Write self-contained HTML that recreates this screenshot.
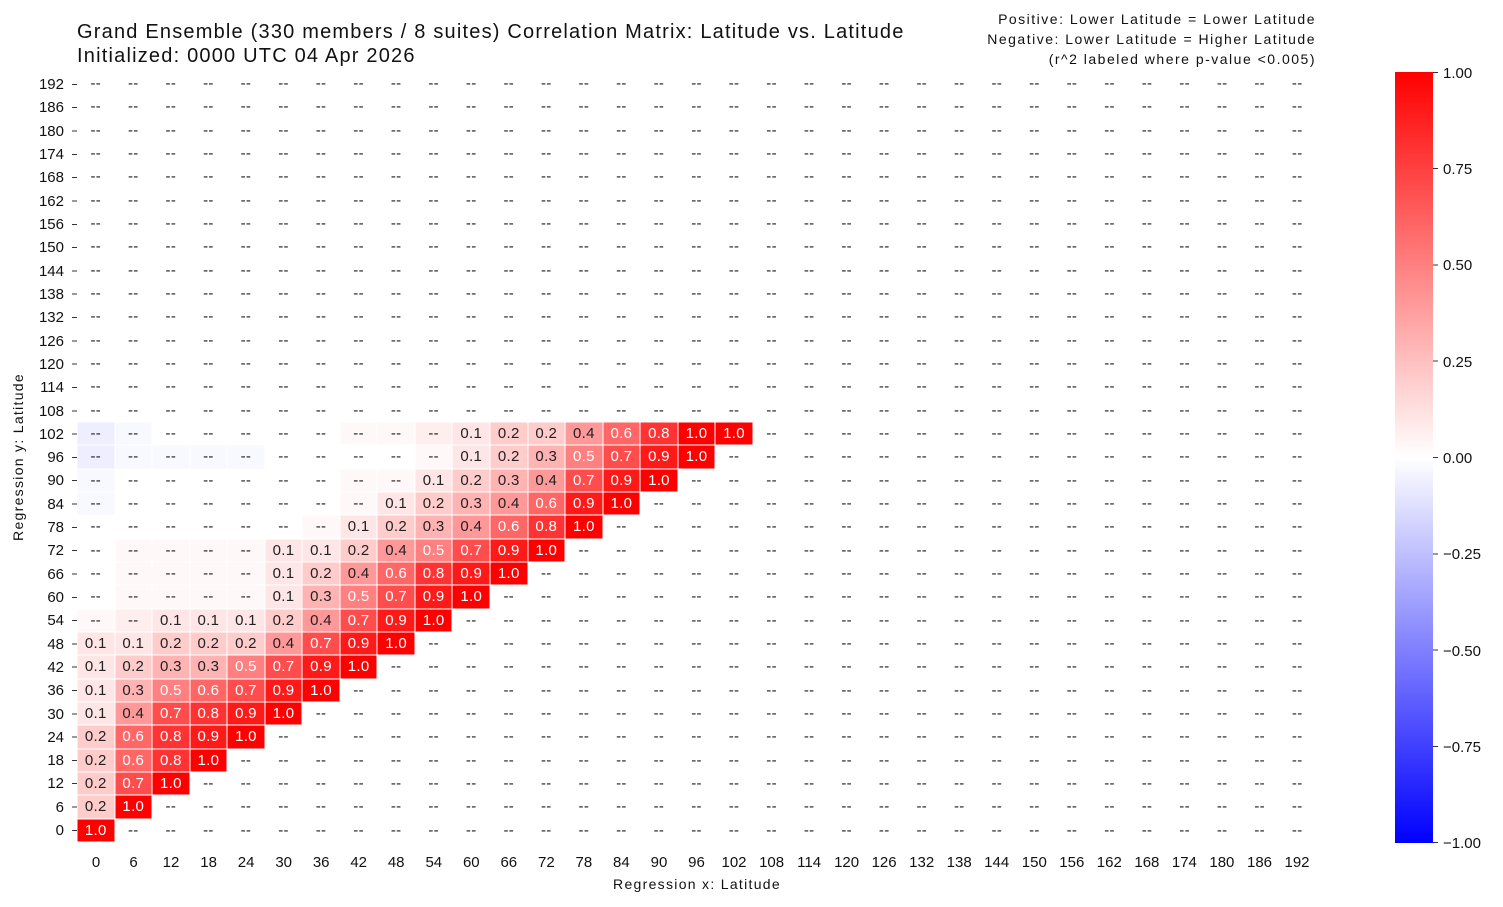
<!DOCTYPE html>
<html><head><meta charset="utf-8"><style>
*{margin:0;padding:0;box-sizing:border-box}
body{width:1503px;height:907px;background:#fff;position:relative;font-family:"Liberation Sans",sans-serif;color:#111;overflow:hidden}
.t{position:absolute;white-space:nowrap}
#g{position:absolute;left:77px;top:72px;width:1239px;height:770px;display:grid;grid-template-columns:repeat(33,1fr);grid-template-rows:repeat(33,1fr)}
#g i{font-style:normal;display:flex;align-items:center;justify-content:center;font-size:15px;letter-spacing:0.3px;color:#222;box-shadow:inset 0 0 0 .5px #fff}
.a1{background:#ffe6e6}.a2{background:#ffcccc}.a3{background:#ffb3b3}.a4{background:#ff9999}
#g .a5{background:#ff8080;color:#fff}#g .a6{background:#ff6666;color:#fff}#g .a7{background:#ff4d4d;color:#fff}#g .a8{background:#ff3333;color:#fff}#g .a9{background:#ff1a1a;color:#fff}#g .a0{background:#ff0000;color:#fff}
.f{background:#fff8f8}.g{background:#ffeeee}.b{background:#f8f8ff}.c{background:#eeeeff}
</style></head><body>
<div class="t" style="left:77px;top:20px;font-size:20px;line-height:24px;letter-spacing:1.2px">Grand Ensemble (330 members / 8 suites) Correlation Matrix: Latitude vs. Latitude<br>Initialized: 0000 UTC 04 Apr 2026</div>
<div class="t" style="right:187px;top:9px;font-size:14px;line-height:20px;text-align:right;letter-spacing:1.5px">Positive: Lower Latitude = Lower Latitude<br>Negative: Lower Latitude = Higher Latitude<br>(r^2 labeled where p-value &lt;0.005)</div>
<div class="t" style="left:697px;top:876px;font-size:14px;letter-spacing:1.3px;transform:translateX(-50%)">Regression x: Latitude</div>
<div class="t" style="left:18px;top:457px;font-size:14px;letter-spacing:1.3px;transform:translate(-50%,-50%) rotate(-90deg)">Regression y: Latitude</div>
<div id="g">
<i>--</i><i>--</i><i>--</i><i>--</i><i>--</i><i>--</i><i>--</i><i>--</i><i>--</i><i>--</i><i>--</i><i>--</i><i>--</i><i>--</i><i>--</i><i>--</i><i>--</i><i>--</i><i>--</i><i>--</i><i>--</i><i>--</i><i>--</i><i>--</i><i>--</i><i>--</i><i>--</i><i>--</i><i>--</i><i>--</i><i>--</i><i>--</i><i>--</i>
<i>--</i><i>--</i><i>--</i><i>--</i><i>--</i><i>--</i><i>--</i><i>--</i><i>--</i><i>--</i><i>--</i><i>--</i><i>--</i><i>--</i><i>--</i><i>--</i><i>--</i><i>--</i><i>--</i><i>--</i><i>--</i><i>--</i><i>--</i><i>--</i><i>--</i><i>--</i><i>--</i><i>--</i><i>--</i><i>--</i><i>--</i><i>--</i><i>--</i>
<i>--</i><i>--</i><i>--</i><i>--</i><i>--</i><i>--</i><i>--</i><i>--</i><i>--</i><i>--</i><i>--</i><i>--</i><i>--</i><i>--</i><i>--</i><i>--</i><i>--</i><i>--</i><i>--</i><i>--</i><i>--</i><i>--</i><i>--</i><i>--</i><i>--</i><i>--</i><i>--</i><i>--</i><i>--</i><i>--</i><i>--</i><i>--</i><i>--</i>
<i>--</i><i>--</i><i>--</i><i>--</i><i>--</i><i>--</i><i>--</i><i>--</i><i>--</i><i>--</i><i>--</i><i>--</i><i>--</i><i>--</i><i>--</i><i>--</i><i>--</i><i>--</i><i>--</i><i>--</i><i>--</i><i>--</i><i>--</i><i>--</i><i>--</i><i>--</i><i>--</i><i>--</i><i>--</i><i>--</i><i>--</i><i>--</i><i>--</i>
<i>--</i><i>--</i><i>--</i><i>--</i><i>--</i><i>--</i><i>--</i><i>--</i><i>--</i><i>--</i><i>--</i><i>--</i><i>--</i><i>--</i><i>--</i><i>--</i><i>--</i><i>--</i><i>--</i><i>--</i><i>--</i><i>--</i><i>--</i><i>--</i><i>--</i><i>--</i><i>--</i><i>--</i><i>--</i><i>--</i><i>--</i><i>--</i><i>--</i>
<i>--</i><i>--</i><i>--</i><i>--</i><i>--</i><i>--</i><i>--</i><i>--</i><i>--</i><i>--</i><i>--</i><i>--</i><i>--</i><i>--</i><i>--</i><i>--</i><i>--</i><i>--</i><i>--</i><i>--</i><i>--</i><i>--</i><i>--</i><i>--</i><i>--</i><i>--</i><i>--</i><i>--</i><i>--</i><i>--</i><i>--</i><i>--</i><i>--</i>
<i>--</i><i>--</i><i>--</i><i>--</i><i>--</i><i>--</i><i>--</i><i>--</i><i>--</i><i>--</i><i>--</i><i>--</i><i>--</i><i>--</i><i>--</i><i>--</i><i>--</i><i>--</i><i>--</i><i>--</i><i>--</i><i>--</i><i>--</i><i>--</i><i>--</i><i>--</i><i>--</i><i>--</i><i>--</i><i>--</i><i>--</i><i>--</i><i>--</i>
<i>--</i><i>--</i><i>--</i><i>--</i><i>--</i><i>--</i><i>--</i><i>--</i><i>--</i><i>--</i><i>--</i><i>--</i><i>--</i><i>--</i><i>--</i><i>--</i><i>--</i><i>--</i><i>--</i><i>--</i><i>--</i><i>--</i><i>--</i><i>--</i><i>--</i><i>--</i><i>--</i><i>--</i><i>--</i><i>--</i><i>--</i><i>--</i><i>--</i>
<i>--</i><i>--</i><i>--</i><i>--</i><i>--</i><i>--</i><i>--</i><i>--</i><i>--</i><i>--</i><i>--</i><i>--</i><i>--</i><i>--</i><i>--</i><i>--</i><i>--</i><i>--</i><i>--</i><i>--</i><i>--</i><i>--</i><i>--</i><i>--</i><i>--</i><i>--</i><i>--</i><i>--</i><i>--</i><i>--</i><i>--</i><i>--</i><i>--</i>
<i>--</i><i>--</i><i>--</i><i>--</i><i>--</i><i>--</i><i>--</i><i>--</i><i>--</i><i>--</i><i>--</i><i>--</i><i>--</i><i>--</i><i>--</i><i>--</i><i>--</i><i>--</i><i>--</i><i>--</i><i>--</i><i>--</i><i>--</i><i>--</i><i>--</i><i>--</i><i>--</i><i>--</i><i>--</i><i>--</i><i>--</i><i>--</i><i>--</i>
<i>--</i><i>--</i><i>--</i><i>--</i><i>--</i><i>--</i><i>--</i><i>--</i><i>--</i><i>--</i><i>--</i><i>--</i><i>--</i><i>--</i><i>--</i><i>--</i><i>--</i><i>--</i><i>--</i><i>--</i><i>--</i><i>--</i><i>--</i><i>--</i><i>--</i><i>--</i><i>--</i><i>--</i><i>--</i><i>--</i><i>--</i><i>--</i><i>--</i>
<i>--</i><i>--</i><i>--</i><i>--</i><i>--</i><i>--</i><i>--</i><i>--</i><i>--</i><i>--</i><i>--</i><i>--</i><i>--</i><i>--</i><i>--</i><i>--</i><i>--</i><i>--</i><i>--</i><i>--</i><i>--</i><i>--</i><i>--</i><i>--</i><i>--</i><i>--</i><i>--</i><i>--</i><i>--</i><i>--</i><i>--</i><i>--</i><i>--</i>
<i>--</i><i>--</i><i>--</i><i>--</i><i>--</i><i>--</i><i>--</i><i>--</i><i>--</i><i>--</i><i>--</i><i>--</i><i>--</i><i>--</i><i>--</i><i>--</i><i>--</i><i>--</i><i>--</i><i>--</i><i>--</i><i>--</i><i>--</i><i>--</i><i>--</i><i>--</i><i>--</i><i>--</i><i>--</i><i>--</i><i>--</i><i>--</i><i>--</i>
<i>--</i><i>--</i><i>--</i><i>--</i><i>--</i><i>--</i><i>--</i><i>--</i><i>--</i><i>--</i><i>--</i><i>--</i><i>--</i><i>--</i><i>--</i><i>--</i><i>--</i><i>--</i><i>--</i><i>--</i><i>--</i><i>--</i><i>--</i><i>--</i><i>--</i><i>--</i><i>--</i><i>--</i><i>--</i><i>--</i><i>--</i><i>--</i><i>--</i>
<i>--</i><i>--</i><i>--</i><i>--</i><i>--</i><i>--</i><i>--</i><i>--</i><i>--</i><i>--</i><i>--</i><i>--</i><i>--</i><i>--</i><i>--</i><i>--</i><i>--</i><i>--</i><i>--</i><i>--</i><i>--</i><i>--</i><i>--</i><i>--</i><i>--</i><i>--</i><i>--</i><i>--</i><i>--</i><i>--</i><i>--</i><i>--</i><i>--</i>
<i class="c">--</i><i class="b">--</i><i>--</i><i>--</i><i>--</i><i>--</i><i>--</i><i class="f">--</i><i class="f">--</i><i class="g">--</i><i class="a1">0.1</i><i class="a2">0.2</i><i class="a2">0.2</i><i class="a4">0.4</i><i class="a6">0.6</i><i class="a8">0.8</i><i class="a0">1.0</i><i class="a0">1.0</i><i>--</i><i>--</i><i>--</i><i>--</i><i>--</i><i>--</i><i>--</i><i>--</i><i>--</i><i>--</i><i>--</i><i>--</i><i>--</i><i>--</i><i>--</i>
<i class="c">--</i><i class="b">--</i><i class="b">--</i><i class="b">--</i><i class="b">--</i><i>--</i><i>--</i><i>--</i><i>--</i><i class="f">--</i><i class="a1">0.1</i><i class="a2">0.2</i><i class="a3">0.3</i><i class="a5">0.5</i><i class="a7">0.7</i><i class="a9">0.9</i><i class="a0">1.0</i><i>--</i><i>--</i><i>--</i><i>--</i><i>--</i><i>--</i><i>--</i><i>--</i><i>--</i><i>--</i><i>--</i><i>--</i><i>--</i><i>--</i><i>--</i><i>--</i>
<i class="b">--</i><i>--</i><i>--</i><i>--</i><i>--</i><i>--</i><i>--</i><i class="f">--</i><i class="f">--</i><i class="a1">0.1</i><i class="a2">0.2</i><i class="a3">0.3</i><i class="a4">0.4</i><i class="a7">0.7</i><i class="a9">0.9</i><i class="a0">1.0</i><i>--</i><i>--</i><i>--</i><i>--</i><i>--</i><i>--</i><i>--</i><i>--</i><i>--</i><i>--</i><i>--</i><i>--</i><i>--</i><i>--</i><i>--</i><i>--</i><i>--</i>
<i class="b">--</i><i>--</i><i>--</i><i>--</i><i>--</i><i>--</i><i>--</i><i class="f">--</i><i class="a1">0.1</i><i class="a2">0.2</i><i class="a3">0.3</i><i class="a4">0.4</i><i class="a6">0.6</i><i class="a9">0.9</i><i class="a0">1.0</i><i>--</i><i>--</i><i>--</i><i>--</i><i>--</i><i>--</i><i>--</i><i>--</i><i>--</i><i>--</i><i>--</i><i>--</i><i>--</i><i>--</i><i>--</i><i>--</i><i>--</i><i>--</i>
<i>--</i><i>--</i><i>--</i><i>--</i><i>--</i><i>--</i><i class="f">--</i><i class="a1">0.1</i><i class="a2">0.2</i><i class="a3">0.3</i><i class="a4">0.4</i><i class="a6">0.6</i><i class="a8">0.8</i><i class="a0">1.0</i><i>--</i><i>--</i><i>--</i><i>--</i><i>--</i><i>--</i><i>--</i><i>--</i><i>--</i><i>--</i><i>--</i><i>--</i><i>--</i><i>--</i><i>--</i><i>--</i><i>--</i><i>--</i><i>--</i>
<i>--</i><i class="f">--</i><i class="f">--</i><i class="f">--</i><i class="f">--</i><i class="a1">0.1</i><i class="a1">0.1</i><i class="a2">0.2</i><i class="a4">0.4</i><i class="a5">0.5</i><i class="a7">0.7</i><i class="a9">0.9</i><i class="a0">1.0</i><i>--</i><i>--</i><i>--</i><i>--</i><i>--</i><i>--</i><i>--</i><i>--</i><i>--</i><i>--</i><i>--</i><i>--</i><i>--</i><i>--</i><i>--</i><i>--</i><i>--</i><i>--</i><i>--</i><i>--</i>
<i>--</i><i class="f">--</i><i class="f">--</i><i class="f">--</i><i class="f">--</i><i class="a1">0.1</i><i class="a2">0.2</i><i class="a4">0.4</i><i class="a6">0.6</i><i class="a8">0.8</i><i class="a9">0.9</i><i class="a0">1.0</i><i>--</i><i>--</i><i>--</i><i>--</i><i>--</i><i>--</i><i>--</i><i>--</i><i>--</i><i>--</i><i>--</i><i>--</i><i>--</i><i>--</i><i>--</i><i>--</i><i>--</i><i>--</i><i>--</i><i>--</i><i>--</i>
<i>--</i><i class="f">--</i><i class="f">--</i><i class="f">--</i><i class="f">--</i><i class="a1">0.1</i><i class="a3">0.3</i><i class="a5">0.5</i><i class="a7">0.7</i><i class="a9">0.9</i><i class="a0">1.0</i><i>--</i><i>--</i><i>--</i><i>--</i><i>--</i><i>--</i><i>--</i><i>--</i><i>--</i><i>--</i><i>--</i><i>--</i><i>--</i><i>--</i><i>--</i><i>--</i><i>--</i><i>--</i><i>--</i><i>--</i><i>--</i><i>--</i>
<i class="f">--</i><i class="g">--</i><i class="a1">0.1</i><i class="a1">0.1</i><i class="a1">0.1</i><i class="a2">0.2</i><i class="a4">0.4</i><i class="a7">0.7</i><i class="a9">0.9</i><i class="a0">1.0</i><i>--</i><i>--</i><i>--</i><i>--</i><i>--</i><i>--</i><i>--</i><i>--</i><i>--</i><i>--</i><i>--</i><i>--</i><i>--</i><i>--</i><i>--</i><i>--</i><i>--</i><i>--</i><i>--</i><i>--</i><i>--</i><i>--</i><i>--</i>
<i class="a1">0.1</i><i class="a1">0.1</i><i class="a2">0.2</i><i class="a2">0.2</i><i class="a2">0.2</i><i class="a4">0.4</i><i class="a7">0.7</i><i class="a9">0.9</i><i class="a0">1.0</i><i>--</i><i>--</i><i>--</i><i>--</i><i>--</i><i>--</i><i>--</i><i>--</i><i>--</i><i>--</i><i>--</i><i>--</i><i>--</i><i>--</i><i>--</i><i>--</i><i>--</i><i>--</i><i>--</i><i>--</i><i>--</i><i>--</i><i>--</i><i>--</i>
<i class="a1">0.1</i><i class="a2">0.2</i><i class="a3">0.3</i><i class="a3">0.3</i><i class="a5">0.5</i><i class="a7">0.7</i><i class="a9">0.9</i><i class="a0">1.0</i><i>--</i><i>--</i><i>--</i><i>--</i><i>--</i><i>--</i><i>--</i><i>--</i><i>--</i><i>--</i><i>--</i><i>--</i><i>--</i><i>--</i><i>--</i><i>--</i><i>--</i><i>--</i><i>--</i><i>--</i><i>--</i><i>--</i><i>--</i><i>--</i><i>--</i>
<i class="a1">0.1</i><i class="a3">0.3</i><i class="a5">0.5</i><i class="a6">0.6</i><i class="a7">0.7</i><i class="a9">0.9</i><i class="a0">1.0</i><i>--</i><i>--</i><i>--</i><i>--</i><i>--</i><i>--</i><i>--</i><i>--</i><i>--</i><i>--</i><i>--</i><i>--</i><i>--</i><i>--</i><i>--</i><i>--</i><i>--</i><i>--</i><i>--</i><i>--</i><i>--</i><i>--</i><i>--</i><i>--</i><i>--</i><i>--</i>
<i class="a1">0.1</i><i class="a4">0.4</i><i class="a7">0.7</i><i class="a8">0.8</i><i class="a9">0.9</i><i class="a0">1.0</i><i>--</i><i>--</i><i>--</i><i>--</i><i>--</i><i>--</i><i>--</i><i>--</i><i>--</i><i>--</i><i>--</i><i>--</i><i>--</i><i>--</i><i>--</i><i>--</i><i>--</i><i>--</i><i>--</i><i>--</i><i>--</i><i>--</i><i>--</i><i>--</i><i>--</i><i>--</i><i>--</i>
<i class="a2">0.2</i><i class="a6">0.6</i><i class="a8">0.8</i><i class="a9">0.9</i><i class="a0">1.0</i><i>--</i><i>--</i><i>--</i><i>--</i><i>--</i><i>--</i><i>--</i><i>--</i><i>--</i><i>--</i><i>--</i><i>--</i><i>--</i><i>--</i><i>--</i><i>--</i><i>--</i><i>--</i><i>--</i><i>--</i><i>--</i><i>--</i><i>--</i><i>--</i><i>--</i><i>--</i><i>--</i><i>--</i>
<i class="a2">0.2</i><i class="a6">0.6</i><i class="a8">0.8</i><i class="a0">1.0</i><i>--</i><i>--</i><i>--</i><i>--</i><i>--</i><i>--</i><i>--</i><i>--</i><i>--</i><i>--</i><i>--</i><i>--</i><i>--</i><i>--</i><i>--</i><i>--</i><i>--</i><i>--</i><i>--</i><i>--</i><i>--</i><i>--</i><i>--</i><i>--</i><i>--</i><i>--</i><i>--</i><i>--</i><i>--</i>
<i class="a2">0.2</i><i class="a7">0.7</i><i class="a0">1.0</i><i>--</i><i>--</i><i>--</i><i>--</i><i>--</i><i>--</i><i>--</i><i>--</i><i>--</i><i>--</i><i>--</i><i>--</i><i>--</i><i>--</i><i>--</i><i>--</i><i>--</i><i>--</i><i>--</i><i>--</i><i>--</i><i>--</i><i>--</i><i>--</i><i>--</i><i>--</i><i>--</i><i>--</i><i>--</i><i>--</i>
<i class="a2">0.2</i><i class="a0">1.0</i><i>--</i><i>--</i><i>--</i><i>--</i><i>--</i><i>--</i><i>--</i><i>--</i><i>--</i><i>--</i><i>--</i><i>--</i><i>--</i><i>--</i><i>--</i><i>--</i><i>--</i><i>--</i><i>--</i><i>--</i><i>--</i><i>--</i><i>--</i><i>--</i><i>--</i><i>--</i><i>--</i><i>--</i><i>--</i><i>--</i><i>--</i>
<i class="a0">1.0</i><i>--</i><i>--</i><i>--</i><i>--</i><i>--</i><i>--</i><i>--</i><i>--</i><i>--</i><i>--</i><i>--</i><i>--</i><i>--</i><i>--</i><i>--</i><i>--</i><i>--</i><i>--</i><i>--</i><i>--</i><i>--</i><i>--</i><i>--</i><i>--</i><i>--</i><i>--</i><i>--</i><i>--</i><i>--</i><i>--</i><i>--</i><i>--</i>
</div>
<svg style="position:absolute;left:0;top:0" width="1503" height="907">
<defs><linearGradient id="cb" x1="0" y1="0" x2="0" y2="1"><stop offset="0" stop-color="#ff0000"/><stop offset="0.5" stop-color="#ffffff"/><stop offset="1" stop-color="#0000ff"/></linearGradient></defs>
<rect x="1395" y="72" width="38" height="771" fill="url(#cb)"/>
<g stroke="#333" stroke-width="1">
<path d="M72 84.5h5M72 107.5h5M72 131h5M72 154.5h5M72 177.5h5M72 201h5M72 224.5h5M72 247.5h5M72 271h5M72 294h5M72 317.5h5M72 341h5M72 364h5M72 387.5h5M72 411h5M72 434h5M72 457.5h5M72 480.5h5M72 504h5M72 527.5h5M72 550.5h5M72 574h5M72 597.5h5M72 620.5h5M72 644h5M72 667h5M72 690.5h5M72 714h5M72 737h5M72 760.5h5M72 783.5h5M72 807h5M72 830.5h5"/>
<path d="M1433 72.5h5M1433 168.5h5M1433 265h5M1433 361h5M1433 457.5h5M1433 554h5M1433 650h5M1433 746.5h5M1433 842.5h5"/>
</g>
<g font-family="Liberation Sans,sans-serif" font-size="15" fill="#111" text-anchor="end">
<text x="64" y="89">192</text><text x="64" y="112">186</text><text x="64" y="136">180</text><text x="64" y="159">174</text><text x="64" y="182">168</text><text x="64" y="206">162</text><text x="64" y="229">156</text><text x="64" y="252">150</text><text x="64" y="276">144</text><text x="64" y="299">138</text><text x="64" y="322">132</text><text x="64" y="346">126</text><text x="64" y="369">120</text><text x="64" y="392">114</text><text x="64" y="416">108</text><text x="64" y="439">102</text><text x="64" y="462">96</text><text x="64" y="485">90</text><text x="64" y="509">84</text><text x="64" y="532">78</text><text x="64" y="555">72</text><text x="64" y="579">66</text><text x="64" y="602">60</text><text x="64" y="625">54</text><text x="64" y="649">48</text><text x="64" y="672">42</text><text x="64" y="695">36</text><text x="64" y="719">30</text><text x="64" y="742">24</text><text x="64" y="765">18</text><text x="64" y="788">12</text><text x="64" y="812">6</text><text x="64" y="835">0</text>
</g>
<g font-family="Liberation Sans,sans-serif" font-size="15" fill="#111" text-anchor="middle">
<text x="96" y="867">0</text><text x="133.5" y="867">6</text><text x="171" y="867">12</text><text x="208.6" y="867">18</text><text x="246.1" y="867">24</text><text x="283.7" y="867">30</text><text x="321.2" y="867">36</text><text x="358.7" y="867">42</text><text x="396.2" y="867">48</text><text x="433.8" y="867">54</text><text x="471.3" y="867">60</text><text x="508.8" y="867">66</text><text x="546.4" y="867">72</text><text x="583.9" y="867">78</text><text x="621.4" y="867">84</text><text x="659" y="867">90</text><text x="696.5" y="867">96</text><text x="734" y="867">102</text><text x="771.6" y="867">108</text><text x="809.1" y="867">114</text><text x="846.6" y="867">120</text><text x="884.1" y="867">126</text><text x="921.7" y="867">132</text><text x="959.2" y="867">138</text><text x="996.7" y="867">144</text><text x="1034.3" y="867">150</text><text x="1071.8" y="867">156</text><text x="1109.3" y="867">162</text><text x="1146.9" y="867">168</text><text x="1184.4" y="867">174</text><text x="1221.9" y="867">180</text><text x="1259.5" y="867">186</text><text x="1297" y="867">192</text>
</g>
<g font-family="Liberation Sans,sans-serif" font-size="15" fill="#111">
<text x="1443" y="78">1.00</text><text x="1443" y="174">0.75</text><text x="1443" y="270">0.50</text><text x="1443" y="367">0.25</text><text x="1443" y="463">0.00</text><text x="1443" y="559">−0.25</text><text x="1443" y="656">−0.50</text><text x="1443" y="752">−0.75</text><text x="1443" y="848">−1.00</text>
</g>
</svg>
</body></html>
